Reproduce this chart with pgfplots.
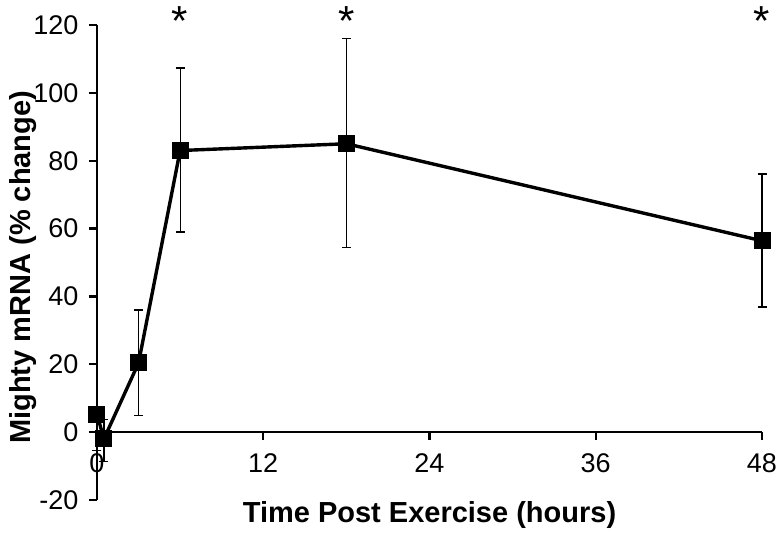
\documentclass[border=0pt]{standalone}
\usepackage{fontspec}
\setmainfont{Liberation Sans}
\usepackage{pgfplots}
\pgfplotsset{compat=1.18}
\begin{document}
\begin{tikzpicture}
\begin{axis}[
  at={(0,0)}, anchor=south west,
  scale only axis, width=665pt, height=475pt,
  xmin=0, xmax=48, ymin=-20, ymax=120,
  axis x line=middle, axis y line=left,
  hide obscured x ticks=false, hide obscured y ticks=false,
  axis line style={line width=2.2pt, -},
  xtick={0,12,24,36,48}, ytick={-20,0,20,40,60,80,100,120},
  tick align=outside, tick style={line width=2.2pt, black},
  major tick length=8pt,
  /pgf/number format/assume math mode=true,
  ticklabel style={font=\fontsize{27}{31}\selectfont},
  xticklabel style={yshift=-10pt},
  yticklabel style={xshift=-7pt},
  clip=false,
  xlabel={Time Post Exercise (hours)},
  ylabel={Mighty mRNA (\% change)},
  xlabel style={font=\bfseries\fontsize{29}{34}\selectfont, at={(axis description cs:0.5,0)}, anchor=center, yshift=-14.5pt},
  ylabel style={font=\bfseries\fontsize{29}{34}\selectfont, at={(axis description cs:0,0.49)}, anchor=center, yshift=73.5pt},
]
\addplot[black, line width=3.4pt, mark=square*, mark size=6.8pt, mark options={solid},
  error bars/.cd, y dir=both, y explicit,
  error bar style={line width=1.2pt, black},
  error mark options={rotate=90, mark size=4.5pt, line width=1.2pt, black}]
coordinates {
(0,5.3) += (0,0) -= (0,10.6)
(0.5,-2) += (0,5.8) -= (0,6.6)
(3,20.4) += (0,15.6) -= (0,15.6)
(6,83) += (0,24.3) -= (0,24)
(18,85) += (0,31.1) -= (0,30.6)
(48,56.4) += (0,19.7) -= (0,19.5)
};
\node[font=\fontsize{42}{42}\selectfont, anchor=north, inner sep=0pt] at (axis cs:6,125.6) {*};
\node[font=\fontsize{42}{42}\selectfont, anchor=north, inner sep=0pt] at (axis cs:18,125.6) {*};
\node[font=\fontsize{42}{42}\selectfont, anchor=north, inner sep=0pt] at (axis cs:48,125.6) {*};
\end{axis}
\pgfresetboundingbox
\useasboundingbox (-97pt,-44pt) rectangle (684pt,500pt);
\end{tikzpicture}
\end{document}
